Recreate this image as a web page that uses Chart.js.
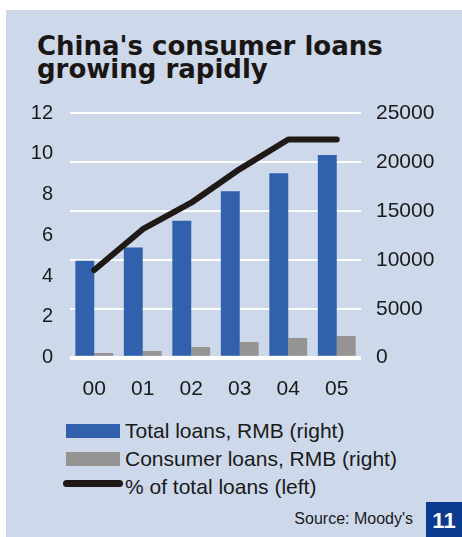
<!DOCTYPE html>
<html>

<head>
    <title>China's consumer loans</title>
    <script src="https://cdn.jsdelivr.net/npm/chart.js@4.4.1/dist/chart.umd.min.js"></script>
    <style>
        body { margin: 0; width: 462px; height: 537px; background: #ffffff; position: relative; overflow: hidden;
               font-family: "Liberation Sans", Arial, sans-serif; color: #1a1a1a; }
        .panel { position: absolute; left: 6px; top: 10px; width: 456px; height: 527px; background: #cdd8ea; }
        .title { position: absolute; left: 37px; top: 34.5px; font-family: "DejaVu Sans", sans-serif; font-weight: bold;
                 font-size: 26px; line-height: 23px; color: #1a1614; white-space: nowrap; }
        .chartbox { position: absolute; left: 0; top: 84px; width: 462px; height: 321px; }
        .legend { position: absolute; left: 0; top: 416.5px; width: 462px; }
        .row { position: relative; height: 28px; line-height: 28px; font-size: 21px; white-space: nowrap; }
        .row span { position: absolute; left: 125px; top: 0; }
        .sw { position: absolute; left: 66px; top: 7.5px; width: 54px; height: 13.5px; }
        .sw.line { left: 63px; width: 60px; height: 7px; border-radius: 3.5px; }
        .source { position: absolute; right: 49px; top: 510px; font-size: 16px; line-height: 18px; }
        .num { position: absolute; left: 426px; top: 502px; width: 36px; height: 35px; background: #0b3a8e;
               color: #ffffff; font-weight: bold; font-size: 22px; line-height: 37px; text-align: center; }
    </style>
</head>

<body>
    <div class="panel"></div>
    <div class="title">China's consumer loans<br>growing rapidly</div>
    <div class="chartbox"><canvas id="myChart"></canvas></div>
    <div class="legend" id="legend"></div>
    <div class="source">Source: Moody's</div>
    <div class="num">11</div>

    <script>
        // values
        const years = ['00', '01', '02', '03', '04', '05'];
        const totalLoans = [9900, 11250, 14000, 17000, 18850, 20700];     // RMB, right axis
        const consumerLoans = [480, 680, 1090, 1600, 2020, 2220];         // RMB, right axis
        const pctOfTotal = [4.3, 6.3, 7.6, 9.25, 10.7, 10.7];             // %, left axis
        const leftTicks = [0, 2, 4, 6, 8, 10, 12];
        const rightTicks = [0, 5000, 10000, 15000, 20000, 25000];

        const blue = '#3160ac';
        const grey = '#969492';
        const black = '#1f1a17';
        const tickFont = { family: 'Liberation Sans', size: 21 };

        const ctx = document.getElementById('myChart');
        const myChart = new Chart(ctx, {
            type: 'bar',
            data: {
                labels: years,
                datasets: [{
                    type: 'line',
                    label: '% of total loans (left)',
                    data: pctOfTotal,
                    yAxisID: 'yLeft',
                    borderColor: black,
                    backgroundColor: black,
                    borderWidth: 6,
                    borderCapStyle: 'round',
                    borderJoinStyle: 'round',
                    pointRadius: 0,
                    tension: 0,
                    order: 0
                }, {
                    label: 'Total loans, RMB (right)',
                    data: totalLoans,
                    yAxisID: 'yRight',
                    backgroundColor: blue,
                    order: 1
                }, {
                    label: 'Consumer loans, RMB (right)',
                    data: consumerLoans,
                    yAxisID: 'yRight',
                    backgroundColor: grey,
                    order: 1
                }]
            },
            options: {
                responsive: true,
                maintainAspectRatio: false,
                animation: false,
                layout: { padding: { top: 19, left: 0, right: 0, bottom: 0 } },
                datasets: {
                    bar: { categoryPercentage: 0.78, barPercentage: 1.0 }
                },
                plugins: {
                    legend: { display: false },
                    tooltip: { enabled: false }
                },
                scales: {
                    x: {
                        grid: { display: false, drawTicks: false },
                        border: { display: false },
                        ticks: { color: '#1a1a1a', font: tickFont, padding: 19, maxRotation: 0 },
                        afterFit: function (scale) { scale.height = 47.3; }
                    },
                    yLeft: {
                        position: 'left',
                        min: leftTicks[0],
                        max: leftTicks[leftTicks.length - 1],
                        afterBuildTicks: function (scale) {
                            scale.ticks = leftTicks.map(v => ({ value: v }));
                        },
                        grid: { display: false, drawTicks: false },
                        border: { display: false },
                        ticks: { color: '#1a1a1a', font: { family: 'Liberation Sans', size: 20 }, padding: 17 },
                        afterFit: function (scale) { scale.width = 70; }
                    },
                    yRight: {
                        position: 'right',
                        min: rightTicks[0],
                        max: rightTicks[rightTicks.length - 1],
                        afterBuildTicks: function (scale) {
                            scale.ticks = rightTicks.map(v => ({ value: v }));
                        },
                        grid: {
                            color: '#ffffff',
                            lineWidth: (c) => (c.tick && c.tick.value === 0 ? 4 : 2),
                            drawTicks: false
                        },
                        border: { display: false },
                        ticks: {
                            color: '#1a1a1a', font: tickFont, padding: 15,
                            callback: (v) => String(v)
                        },
                        afterFit: function (scale) { scale.width = 101; }
                    }
                }
            }
        });

        // legend built from the datasets: bars first, then the line
        let legendOrder = [1, 2, 0];
        let html = '';
        for (ix of legendOrder) {
            let ds = myChart.data.datasets[ix];
            let cls = ds.type === 'line' ? 'sw line' : 'sw';
            let col = ds.type === 'line' ? ds.borderColor : ds.backgroundColor;
            html += `<div class="row"><div class="${cls}" style="background:${col}"></div><span>${ds.label}</span></div>`;
        }
        document.getElementById('legend').innerHTML = html;
    </script>
</body>

</html>
